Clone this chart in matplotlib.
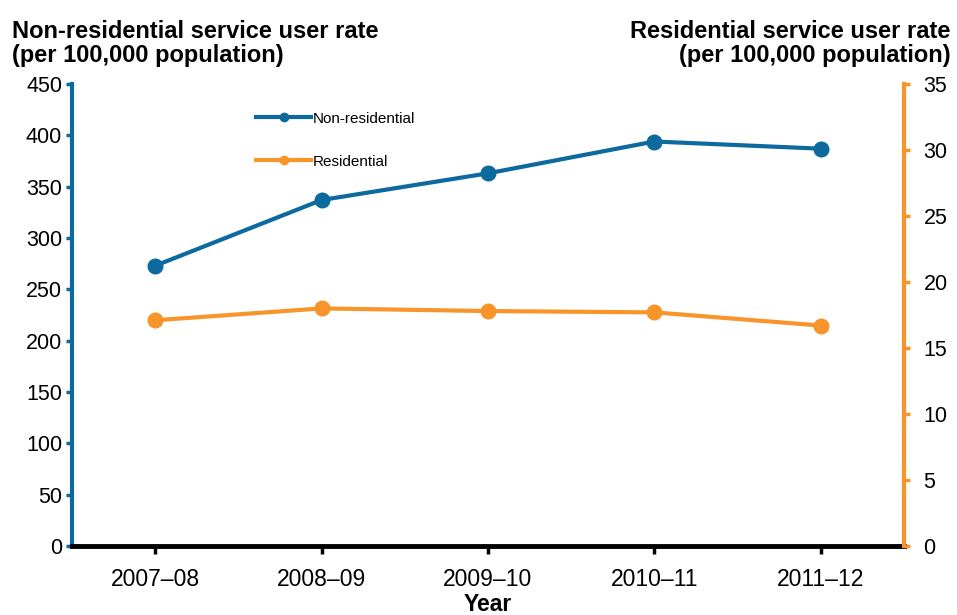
import matplotlib.pyplot as plt
from matplotlib.lines import Line2D
import numpy as np

plt.rcParams['font.family'] = ['Liberation Sans', 'DejaVu Sans']

# data
years = ['2007–08', '2008–09', '2009–10', '2010–11', '2011–12']
non_residential = [273, 337, 363, 394, 387]
residential = [17.1, 18.0, 17.8, 17.7, 16.7]

blue = '#0D6A9E'
orange = '#F8952A'

fig = plt.figure(figsize=(9.57, 6.15), dpi=100)
ax = fig.add_axes([0.0752, 0.1122, 0.8694, 0.7512])
ax2 = ax.twinx()

x = np.arange(len(years))
ax.plot(x, non_residential, color=blue, linewidth=3, marker='o', markersize=10.5, zorder=3)
ax2.plot(x, residential, color=orange, linewidth=3, marker='o', markersize=10.5)

ax.set_xlim(-0.5, len(years) - 0.5)
ax.set_ylim(0, 450)
ax.set_yticks(np.arange(0, 451, 50))
ax2.set_ylim(0, 35)
ax2.set_yticks(np.arange(0, 36, 5))

ax.set_xticks(x)
ax.set_xticklabels(years)
ax.tick_params(axis='x', labelsize=16.5, length=6, width=2.5, color='black', pad=10)
ax.tick_params(axis='y', labelsize=15.5, length=4, width=2.5, color=blue, pad=3)
ax2.tick_params(axis='y', labelsize=15.5, length=4, width=2.5, color=orange, pad=10)

for s in ['top', 'right']:
    ax.spines[s].set_visible(False)
ax.spines['left'].set_color(blue)
ax.spines['left'].set_linewidth(3)
ax.spines['bottom'].set_color('black')
ax.spines['bottom'].set_linewidth(3.5)
ax.spines['bottom'].set_zorder(5)
ax2.spines['top'].set_visible(False)
ax2.spines['left'].set_visible(False)
ax2.spines['bottom'].set_visible(False)
ax2.spines['right'].set_color(orange)
ax2.spines['right'].set_linewidth(3)

ax.set_xlabel('Year', fontsize=16.5, fontweight='bold', labelpad=1)

fig.text(0.0125, 0.968, 'Non-residential service user rate\n(per 100,000 population)',
         fontsize=17, fontweight='bold', ha='left', va='top', linespacing=1.1)
fig.text(0.993, 0.968, 'Residential service user rate\n(per 100,000 population)',
         fontsize=17, fontweight='bold', ha='right', va='top', linespacing=1.1, multialignment='right')

handles = [Line2D([], [], color=blue, linewidth=3, marker='o', markersize=6),
           Line2D([], [], color=orange, linewidth=3, marker='o', markersize=6)]
ax.legend(handles, ['Non-residential', 'Residential'], loc='upper left',
          bbox_to_anchor=(0.205, 0.97), frameon=False, fontsize=11,
          labelspacing=1.9, handlelength=3.6, handletextpad=0.1)

fig.savefig('out.png', dpi=100)
